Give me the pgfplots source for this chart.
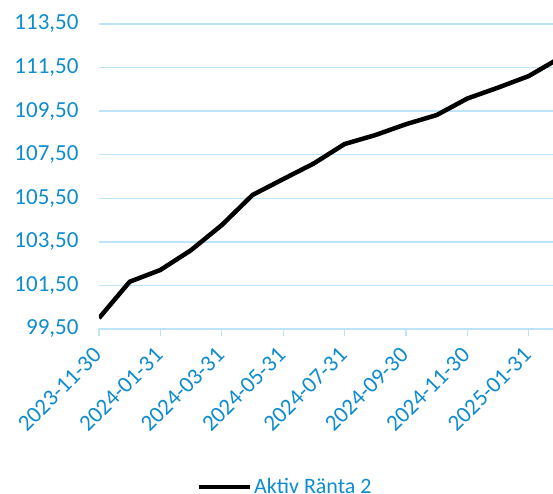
\documentclass[border=0pt]{standalone}
\usepackage{fontspec}
\setmainfont{Carlito}
\usepackage{pgfplots}
\pgfplotsset{compat=1.18}
\definecolor{lbl}{RGB}{14,140,206}
\definecolor{grd}{RGB}{190,228,248}

\begin{document}
\begin{tikzpicture}
\begin{axis}[
    scale only axis,
    width=454pt, height=305pt,
    xmin=0, xmax=14.79,
    ymin=99.5, ymax=113.5,
    ytick={99.5,101.5,...,113.5},
    xtick={0,2,...,14},
    xticklabels={2023-11-30,2024-01-31,2024-03-31,2024-05-31,2024-07-31,2024-09-30,2024-11-30,2025-01-31},
    axis x line*=bottom, axis y line*=left,
    y axis line style={draw=none},
    x axis line style={-, draw=grd, line width=1.3pt},
    xtick style={draw=grd, line width=1.3pt},
    ytick style={draw=none},
    tick align=outside,
    major tick length=7pt,
    ymajorgrids,
    grid style={draw=grd, line width=1.3pt},
    /pgf/number format/assume math mode=true,
    yticklabel style={/pgf/number format/.cd, fixed, fixed zerofill, precision=2, use comma,
        /tikz/.cd, xshift=-10pt},
    tick label style={font=\fontsize{23}{27}\selectfont, text=lbl},
    xticklabel style={xshift=1pt, yshift=-13pt, rotate=45, anchor=east},
    legend style={at={(0.41,-0.518)}, anchor=center, draw=none, fill=none,
        font=\fontsize{22}{26}\selectfont, text=lbl},
    legend image code/.code={\draw[#1, line width=4.5pt] (0pt,0pt) -- (51pt,0pt);},
]
\addplot[black, line width=4.5pt, line join=round] coordinates {
    (0,100.00) (1,101.67) (2,102.21) (3,103.12) (4,104.27) (5,105.65)
    (6,106.38) (7,107.10) (8,107.99) (9,108.40) (10,108.90) (11,109.32)
    (12,110.08) (13,110.58) (14,111.11) (15,111.93)
};
\legend{Aktiv Ränta 2}
\end{axis}
\pgfresetboundingbox
\path ([xshift=-99pt,yshift=-165pt]current axis.south west) rectangle ([yshift=24pt]current axis.north east);
\end{tikzpicture}
\end{document}
